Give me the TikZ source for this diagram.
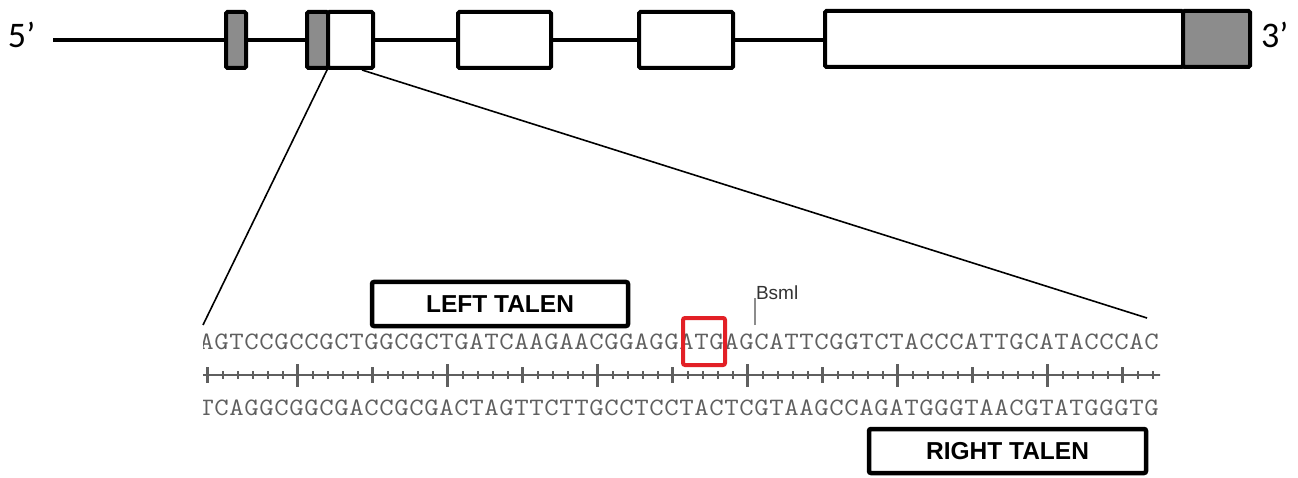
\documentclass[tikz,border=0pt]{standalone}
\usepackage{fontspec}
\setmainfont{Liberation Sans}
\newfontfamily\primefont{Carlito}
\usetikzlibrary{calc}

% set each base in a fixed 15pt cell so both strands line up with the ruler
\newcommand\spreadseq[1]{\spreadstep#1\relax}
\def\spreadstep#1{\ifx\relax#1\else\makebox[15pt]{\scalebox{1.12}[1]{#1}}\expandafter\spreadstep\fi}

\definecolor{utrgray}{RGB}{140,140,140}
\definecolor{seqgray}{RGB}{95,95,95}
\definecolor{atgred}{RGB}{226,32,38}

\tikzset{
  every node/.style={inner sep=0pt, outer sep=0pt},
  exonbox/.style={draw, line width=4pt, fill=white, minimum height=56pt, rounded corners=1.5pt},
  utrbox/.style={exonbox, fill=utrgray},
  intron/.style={line width=4pt},
  zoomline/.style={line width=1.6pt},
  primelabel/.style={font=\primefont\fontsize{36}{36}\selectfont},
  talenbox/.style={draw, line width=4.5pt, rounded corners=2pt,
    font=\fontsize{24.5}{24.5}\selectfont\bfseries},
  seqtext/.style={text=seqgray, font=\ttfamily\fontsize{25}{25}\selectfont},
  rulerline/.style={draw=seqgray, line width=2.6pt},
  minortick/.style={draw=seqgray, line width=2pt},
  majortick/.style={draw=seqgray, line width=2.8pt},
  sitemark/.style={draw=black!45, line width=1.4pt},
  sitelabel/.style={text=black!80, font=\fontsize{19}{19}\selectfont},
  startbox/.style={draw=atgred, line width=4pt, rounded corners=2pt}
}

\begin{document}
\begin{tikzpicture}[x=1pt, y=-1pt]
  \useasboundingbox (0,0) rectangle (1298,478);
  \fill[white] (0,0) rectangle (1298,478);

  % ---- gene model ----
  \coordinate (gstart) at (53,40);
  \node[utrbox, minimum width=20pt]  (e1)  at (236,40) {};
  \node[utrbox, minimum width=21pt]  (e2g) at (317.5,40) {};
  \node[exonbox, minimum width=45pt] (e2w) at (350.5,40) {};
  \node[exonbox, minimum width=93pt] (e3)  at (504.5,40) {};
  \node[exonbox, minimum width=94pt] (e4)  at (686,40) {};
  \node[exonbox, minimum width=358pt] (e5w) at (1004,39) {};
  \node[utrbox, minimum width=67pt]  (e5g) at (1216.5,39) {};

  \draw[intron] (gstart) -- (e1.west);
  \draw[intron] (e1.east) -- (e2g.west);
  \draw[intron] (e2w.east) -- (e3.west);
  \draw[intron] (e3.east) -- (e4.west);
  \draw[intron] (e4.east) -- (e5w.west |- e4.east);

  \node[primelabel, anchor=base west] (five)  at (8,48) {5’};
  \node[primelabel, anchor=base west] (three) at (1261,48) {3’};

  % ---- zoom onto exon 2 ----
  \coordinate (zl) at (203,325);
  \coordinate (zr) at (1147,318);
  \coordinate (e2cut) at (362,70);
  \draw[zoomline] (e2g.south east) -- (zl);
  \draw[zoomline] (e2cut) -- (zr);

  % ---- sequence window ----
  \begin{scope}
    \clip (203,320) rectangle (1160,425);
    \node[seqtext, anchor=base west] (topstrand) at (199,349)
      {\spreadseq{AGTCCGCCGCTGGCGCTGATCAAGAACGGAGGATGAGCATTCGGTCTACCCATTGCATACCCAC}};
    \node[seqtext, anchor=base west] (botstrand) at (199,415)
      {\spreadseq{TCAGGCGGCGACCGCGACTAGTTCTTGCCTCCTACTCGTAAGCCAGATGGGTAACGTATGGGTG}};
    \coordinate (rulerL) at (200,375);
    \coordinate (rulerR) at (1165,375);
    \draw[rulerline] (rulerL) -- (rulerR);
    \foreach \i in {1,...,64}
      \draw[minortick] ($(rulerL)+(\i*15-7.5,-4)$) -- ++(0,8);
    \foreach \i in {1,12,22,32,42,52,62}
      \draw[majortick] ($(rulerL)+(\i*15-7.5,-8)$) -- ++(0,16);
    \foreach \i in {7,17,27,37,47,57}
      \draw[majortick] ($(rulerL)+(\i*15-7.5,-11)$) -- ++(0,23);
  \end{scope}

  % BsmI site
  \coordinate (bsmfoot) at (755,325);
  \draw[sitemark] (bsmfoot) -- ++(0,-27) coordinate (bsmtop);
  \node[sitelabel, anchor=base west] (bsm) at (756,300) {Bsml};

  % start codon
  \node[startbox, minimum width=42pt, minimum height=47pt] (atg) at (704,341.5) {};

  % TALEN binding arms
  \node[talenbox, minimum width=256pt, minimum height=44pt] (left)  at (500,304) {LEFT TALEN};
  \node[talenbox, minimum width=277pt, minimum height=44pt] (right) at (1007.5,451) {RIGHT TALEN};
\end{tikzpicture}
\end{document}
